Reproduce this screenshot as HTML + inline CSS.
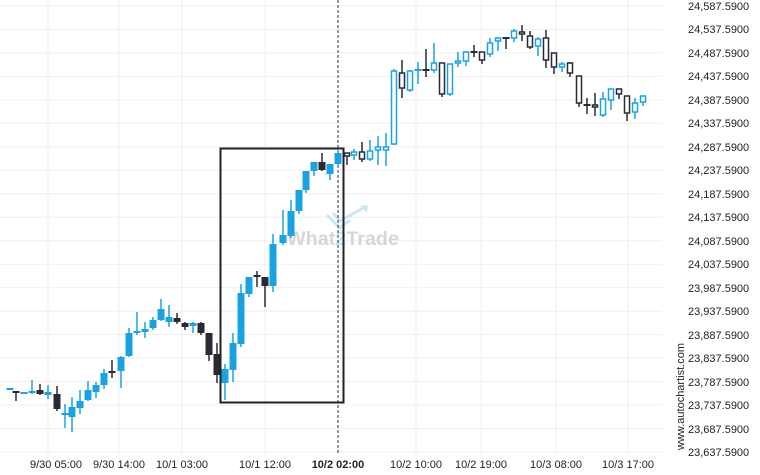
<!DOCTYPE html>
<html><head><meta charset="utf-8"><style>
html,body{margin:0;padding:0;background:#fff}
svg{display:block;font-family:"Liberation Sans",sans-serif}
</style></head><body>
<svg id="s" width="760" height="475" viewBox="0 0 760 475" xmlns="http://www.w3.org/2000/svg">
<g id="grid" stroke="#efefef" stroke-width="1"></g>
<g font-size="11" fill="#222">
<text x="688" y="10">24,587.5900</text>
<text x="688" y="33">24,537.5900</text>
<text x="688" y="57">24,487.5900</text>
<text x="688" y="80">24,437.5900</text>
<text x="688" y="104">24,387.5900</text>
<text x="688" y="127">24,337.5900</text>
<text x="688" y="151">24,287.5900</text>
<text x="688" y="174">24,237.5900</text>
<text x="688" y="198">24,187.5900</text>
<text x="688" y="221">24,137.5900</text>
<text x="688" y="245">24,087.5900</text>
<text x="688" y="268">24,037.5900</text>
<text x="688" y="292">23,987.5900</text>
<text x="688" y="315">23,937.5900</text>
<text x="688" y="339">23,887.5900</text>
<text x="688" y="362">23,837.5900</text>
<text x="688" y="386">23,787.5900</text>
<text x="688" y="409">23,737.5900</text>
<text x="688" y="433">23,687.5900</text>
<text x="688" y="456">23,637.5900</text>
</g>
<g font-size="11" fill="#222" text-anchor="middle">
<text x="56" y="468">9/30 05:00</text>
<text x="119" y="468">9/30 14:00</text>
<text x="182" y="468">10/1 03:00</text>
<text x="265" y="468">10/1 12:00</text>
<text x="338" y="468" font-weight="bold">10/2 02:00</text>
<text x="416" y="468">10/2 10:00</text>
<text x="481" y="468">10/2 19:00</text>
<text x="556" y="468">10/3 08:00</text>
<text x="628" y="468">10/3 17:00</text>
</g>
<text transform="translate(684,450) rotate(-90)" font-size="11" fill="#222">www.autochartist.com</text>
<g>
<path d="M327 215 l13 13 l10 -8 M333 213 l7 8 l25 -14" fill="none" stroke="#c8e7f5" stroke-width="3"/>
<path d="M360 206 l8 -1 l-1 8 z" fill="#c8e7f5"/>
<text x="287" y="245" font-size="19" font-weight="bold" fill="#d6d6d6" textLength="112" lengthAdjust="spacingAndGlyphs">What<tspan fill="#c8e7f5">2</tspan>Trade</text>
</g>
<line x1="338" y1="0" x2="338" y2="455" stroke="#1c3a4a" stroke-width="1" stroke-dasharray="3,2"/>
<g id="c"></g>
<rect x="220.5" y="148.5" width="123" height="254" fill="none" stroke="#222" stroke-width="2"/>
</svg>
<script>
var g=document.getElementById('grid'),h='';
for(var i=0;i<20;i++){var y=6+i*23.47;h+='<line x1="0" x2="662" y1="'+y.toFixed(1)+'" y2="'+y.toFixed(1)+'"/>';}
[48,119,182,265,416,481,556,628].forEach(function(x){h+='<line x1="'+x+'" x2="'+x+'" y1="0" y2="455"/>';});
g.innerHTML=h;
var B='#1aa3e0',D='#2a2a33';
var d=[[10,'b',388,390],[16,'d',391,393,391,401],[24,'b',392,394],[32,'b',391,393,380,394],[40,'d',390,394,384,395],[48,'b',392,395,385,399],[57,'d',394,409,386,411],[65,'b',413,415,404,428],[72,'b',407,417,397,432],[80,'b',401,408,390,414],[88,'b',390,400,381,401],[96,'b',385,392,382,398],[104,'b',373,385,369,389],[112,'d',371,373,360,378],[121,'b',357,371,356,388],[129,'b',333,356,328,357],[137,'b',331,333,312,335],[145,'b',329,332,322,338],[153,'b',320,328,317,330],[161,'b',309,320,299,321],[169,'b',317,322,305,327],[177,'d',318,322,313,324],[185,'d',323,327,322,330],[193,'b',323,326,322,333],[201,'d',323,333,322,335],[209,'d',333,355,333,361],[217,'d',354,375,343,383],[225,'b',369,383,364,400],[233,'b',343,370,333,382],[241,'b',293,344,284,347],[249,'b',277,294,277,297],[257,'d',275,277,271,287],[265,'d',277,286,277,307],[273,'b',244,286,234,292],[283,'b',235,243,210,245],[291,'b',211,236,200,238],[299,'b',190,211,190,214],[306,'b',171,190,171,193],[314,'b',162,171,162,176],[322,'d',162,170,153,171],[330,'b',164,174,164,180],[338,'b',153,164,150,166],
[347,'hd',153,156,153,165],[354,'hb',152,155,149,160],[362,'hd',152,159,142,162],[370,'hb',151,159,140,161],[378,'hb',147,150,136,165],[386,'hb',147,150,133,166],[394,'hb',71,144,69,145],[402,'hd',73,88,60,98],[410,'hb',71,90,70,92],[418,'b',69,71,62,84],[426,'d',69,71,49,77],[434,'hb',63,70,43,73],[442,'hd',63,94,63,97],[450,'hb',64,94,64,96],[458,'hb',61,63,52,67],[466,'hb',52,61,51,66],[474,'d',51,53,45,57],[482,'hd',52,60,52,64],[490,'hb',43,54,38,57],[498,'hb',38,41,38,51],[506,'d',37,39,37,49],[514,'hb',31,38,29,42],[522,'hd',32,34,25,41],[530,'hd',36,47,31,49],[538,'hb',39,46,37,56],[546,'hd',38,60,30,68],[554,'hd',53,67,53,74],[562,'hb',64,67,62,72],[570,'hd',63,73,62,77],[579,'hd',76,103,76,107],[587,'d',104,106,98,114],[595,'hd',105,107,93,116],[603,'hb',99,115,92,117],[611,'hb',89,100,89,110],[619,'hd',89,94,89,99],[627,'hd',96,113,96,121],[635,'hb',103,112,98,119],[643,'hb',96,102,96,106]];
var o='';
d.forEach(function(c){var x=c[0],t=c[1],bt=c[2],bb=c[3],wt=c.length>4?c[4]:bt,wb=c.length>5?c[5]:bb;
var col=(t=='b'||t=='hb')?B:D;
o+='<line x1="'+x+'" x2="'+x+'" y1="'+wt+'" y2="'+wb+'" stroke="'+col+'" stroke-width="1.5"/>';
if(t[0]=='h'){o+='<rect x="'+(x-2.5)+'" y="'+bt+'" width="5" height="'+Math.max(bb-bt,2)+'" fill="#fff" stroke="'+col+'" stroke-width="1.5"/>';}
else{o+='<rect x="'+(x-3.5)+'" y="'+bt+'" width="7" height="'+Math.max(bb-bt,2)+'" fill="'+col+'"/>';}
});
document.getElementById('c').innerHTML=o;
</script>
</body></html>
